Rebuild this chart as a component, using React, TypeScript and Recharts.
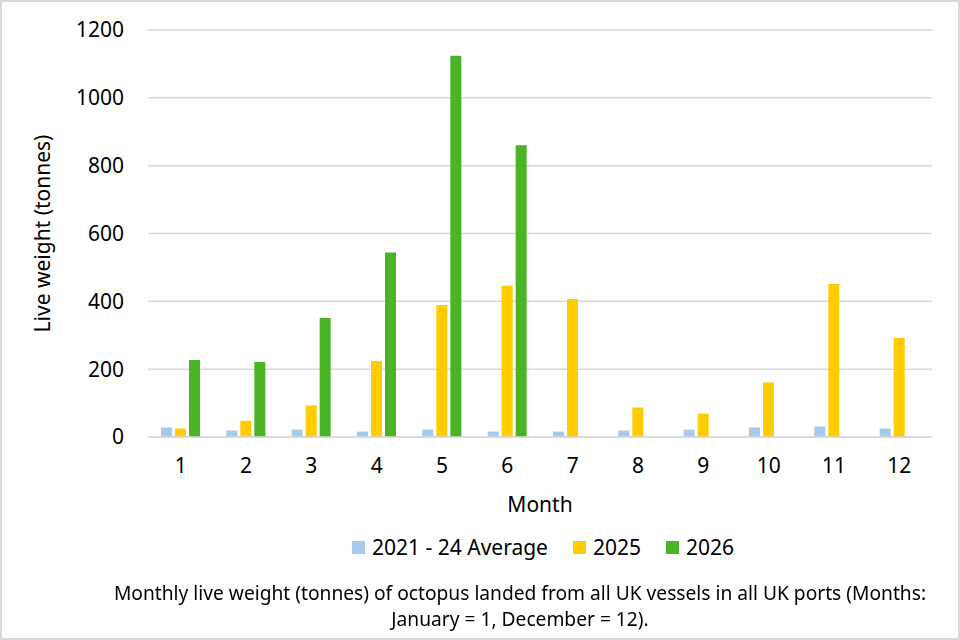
import { BarChart, Bar, XAxis, YAxis, CartesianGrid } from 'recharts';

const months = ['1', '2', '3', '4', '5', '6', '7', '8', '9', '10', '11', '12'];
const avg2124 = [28, 19, 22, 16, 22, 16, 16, 19, 22, 28, 31, 25];
const y2025 = [25, 48, 93, 224, 389, 446, 407, 87, 69, 161, 451, 292];
const y2026 = [227, 221, 351, 544, 1124, 860, null, null, null, null, null, null];
const yTicks = [0, 200, 400, 600, 800, 1000, 1200];

const series = [
  { key: 'avg', name: '2021 - 24 Average', color: '#A6CAEC' },
  { key: 'y2025', name: '2025', color: '#FFCC00' },
  { key: 'y2026', name: '2026', color: '#4BB426' },
];

const caption = [
  'Monthly live weight (tonnes) of octopus landed from all UK vessels in all UK ports (Months:',
  'January = 1, December = 12).',
];

const data = months.map((m, i) => ({
  month: m,
  avg: avg2124[i],
  y2025: y2025[i],
  y2026: y2026[i],
}));

const font = '"Noto Sans", sans-serif';

export default function App() {
  return (
    <div
      style={{
        position: 'fixed',
        left: 0,
        top: 0,
        width: 960,
        height: 640,
        boxSizing: 'border-box',
        border: '2px solid #d9d9d9',
        background: '#fff',
        fontFamily: font,
        color: '#000',
      }}
    >
      <div style={{ position: 'absolute', left: -2, top: -2 }}>
        <BarChart
          width={960}
          height={640}
          data={data}
          margin={{ top: 30, right: 28, bottom: 123, left: 0 }}
          barSize={11}
          barGap={3}
        >
          <CartesianGrid vertical={false} stroke="#d9d9d9" strokeWidth={1.5} />
          <XAxis
            dataKey="month"
            height={80}
            tickLine={false}
            tickSize={0}
            tickMargin={21}
            axisLine={{ stroke: '#d9d9d9', strokeWidth: 1.5 }}
            tick={{ fill: '#000', fontSize: 21, fontFamily: font }}
            label={{ value: 'Month', position: 'insideBottom', offset: 5, fill: '#000', fontSize: 21, fontFamily: font }}
          />
          <YAxis
            width={148}
            domain={[0, 1200]}
            ticks={yTicks}
            axisLine={false}
            tickLine={false}
            tickSize={0}
            tickMargin={24}
            tick={{ fill: '#000', fontSize: 21, fontFamily: font }}
            label={{
              value: 'Live weight (tonnes)',
              angle: -90,
              position: 'insideLeft',
              offset: 43,
              fill: '#000',
              fontSize: 21,
              fontFamily: font,
              style: { textAnchor: 'middle' },
            }}
          />
          {series.map((s) => (
            <Bar key={s.key} dataKey={s.key} name={s.name} fill={s.color} isAnimationActive={false} />
          ))}
        </BarChart>
      </div>
      <div
        style={{
          position: 'absolute',
          left: 350,
          top: 531,
          display: 'flex',
          alignItems: 'center',
          fontSize: 21,
          lineHeight: '28px',
        }}
      >
        {series.map((s) => (
          <div key={s.key} style={{ display: 'flex', alignItems: 'center', marginRight: 25 }}>
            <span style={{ width: 13, height: 13, background: s.color, marginRight: 7, display: 'inline-block' }} />
            <span>{s.name}</span>
          </div>
        ))}
      </div>
      <div
        style={{
          position: 'absolute',
          left: 38,
          width: 960,
          top: 578,
          textAlign: 'center',
          fontSize: 19.2,
          lineHeight: '26px',
        }}
      >
        {caption.map((line) => (
          <div key={line}>{line}</div>
        ))}
      </div>
    </div>
  );
}
